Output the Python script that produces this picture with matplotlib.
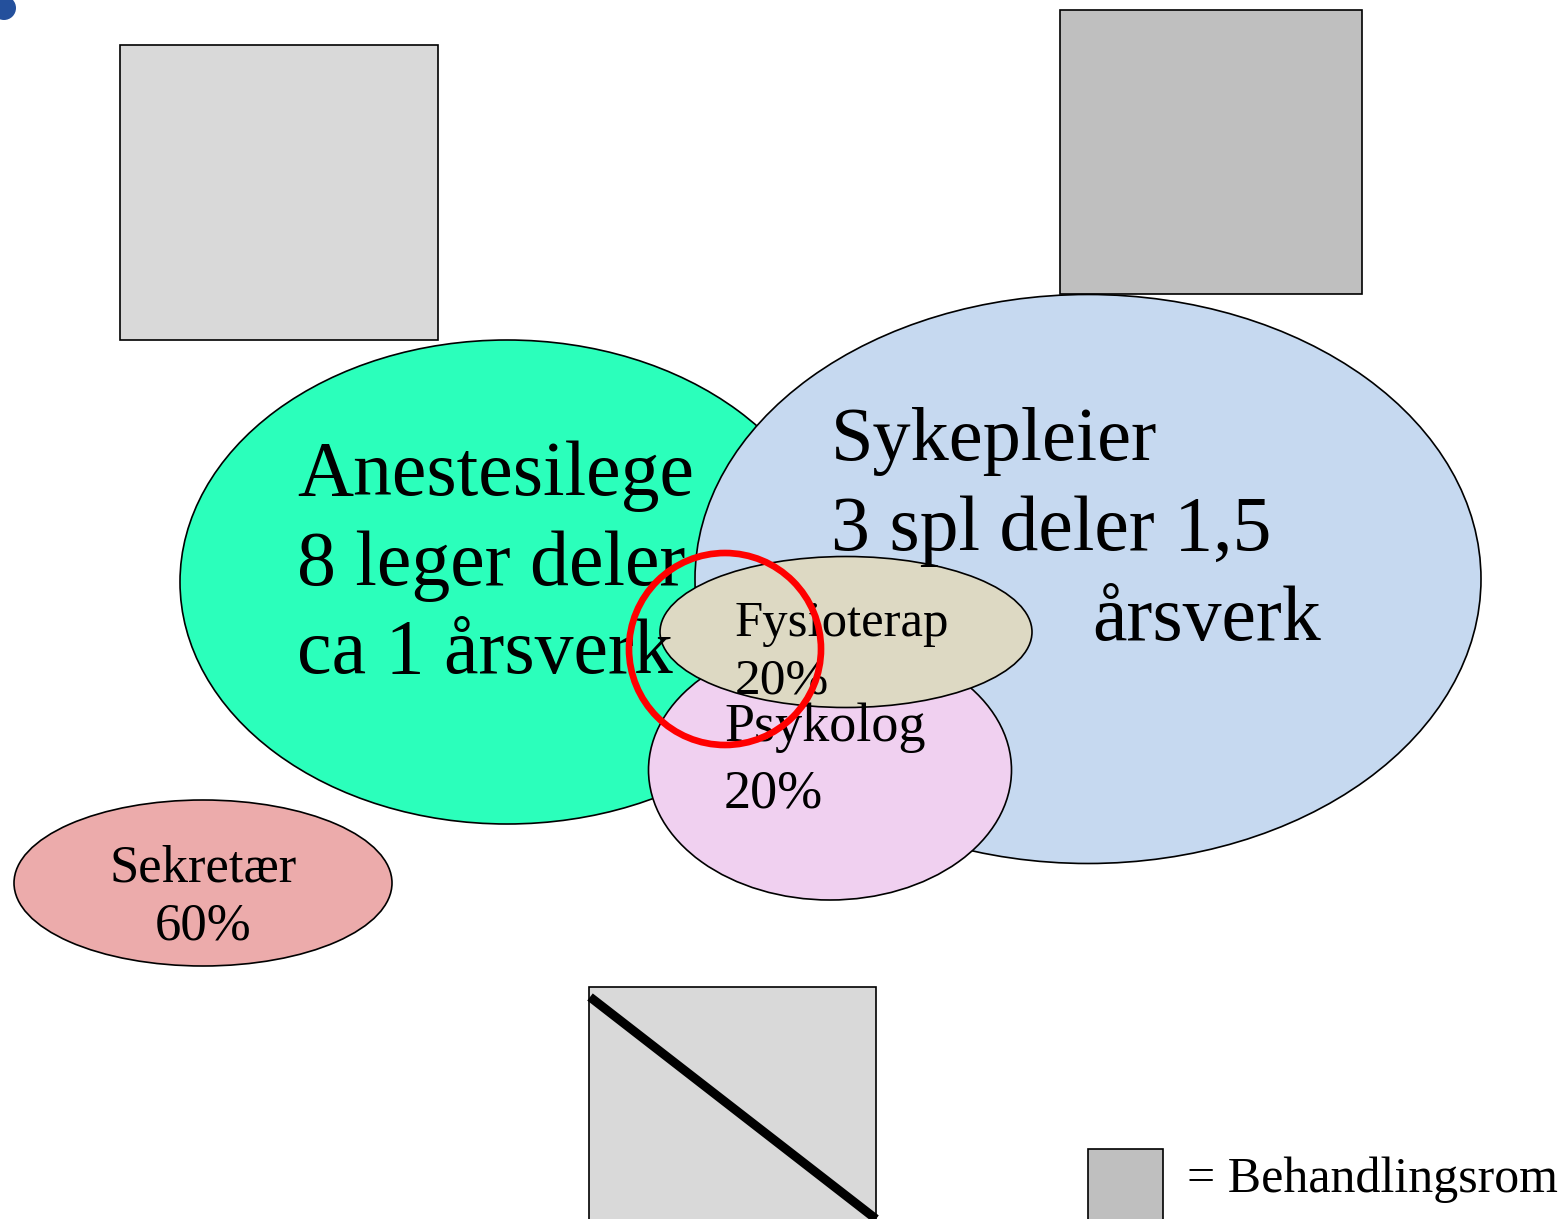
import matplotlib

matplotlib.use("Agg")
import matplotlib.pyplot as plt  # noqa: E402
from matplotlib.patches import Ellipse, Rectangle, Circle  # noqa: E402

plt.rcParams["font.family"] = ["Liberation Serif", "DejaVu Serif"]

W, H = 1566, 1219

# rooms (x, y, w, h) in pixel space, y downwards
room_boxes = [(120, 45, 318, 295), (1060, 10, 302, 284), (589, 987, 287, 260)]
room_colors = ["#d9d9d9", "#bfbfbf", "#d9d9d9"]

# staff groups, drawn in this order (later ones on top)
group_names = ["Anestesilege", "Sykepleier", "Psykolog", "Fysioterap", "Sekretær"]
group_centers = [(507, 582), (1088, 579), (830, 770), (846, 632), (203, 883)]
group_sizes = [(654, 484), (786, 569), (363, 260), (372, 151), (378, 166)]
group_colors = ["#2bffbb", "#c6d9f0", "#f0d0f0", "#ddd9c3", "#ecabab"]

# text lines: (x, baseline y, text, size, ha)
text_lines = [
    (297, 495, "Anestesilege", 56, "left"),
    (297, 585, "8 leger deler", 56, "left"),
    (297, 673, "ca 1 årsverk", 56, "left"),
    (831, 460, "Sykepleier", 55, "left"),
    (831, 550, "3 spl deler 1,5", 56, "left"),
    (1092, 640, "årsverk", 56, "left"),
    (735, 636, "Fysioterap", 36.5, "left"),
    (735, 693, "20%", 37, "left"),
    (724, 741, "Psykolog", 39, "left"),
    (724, 807, "20%", 39, "left"),
    (203, 882, "Sekretær", 38, "center"),
    (203, 939, "60%", 38, "center"),
    (1187, 1192, "= Behandlingsrom", 36, "left"),
]

fig = plt.figure(figsize=(W / 100, H / 100), dpi=100)
ax = fig.add_axes([0, 0, 1, 1])
ax.set_xlim(0, W)
ax.set_ylim(H, 0)
ax.axis("off")

for (x, y, w, h), c in zip(room_boxes, room_colors):
    ax.add_patch(Rectangle((x, y), w, h, facecolor=c, edgecolor="black", linewidth=1.2, zorder=1))
# crossed-out room at the bottom
bx, by, bw, bh = room_boxes[2]
ax.plot([bx + 1, bx + bw], [by + 10, H], color="black", linewidth=6.5, solid_capstyle="butt", zorder=2)

# legend swatch
ax.add_patch(Rectangle((1088, 1149), 75, 100, facecolor="#bfbfbf", edgecolor="black", linewidth=1.2, zorder=1))

for i, (name, (cx, cy), (w, h), c) in enumerate(zip(group_names, group_centers, group_sizes, group_colors)):
    ax.add_patch(Ellipse((cx, cy), w, h, facecolor=c, edgecolor="black", linewidth=1.2, zorder=3 + i))

for x, y, t, size, ha in text_lines:
    ax.text(x, y, t, fontsize=size, ha=ha, va="baseline", zorder=20)

# red highlight ring
ax.add_patch(Circle((725, 649), 96, facecolor="none", edgecolor="#ff0000", linewidth=4.8, zorder=30))

# bullet remnant in the corner
ax.add_patch(Circle((4, 8), 12, facecolor="#24509c", edgecolor="none", zorder=30))

fig.savefig("out.png", dpi=100, facecolor="white")
